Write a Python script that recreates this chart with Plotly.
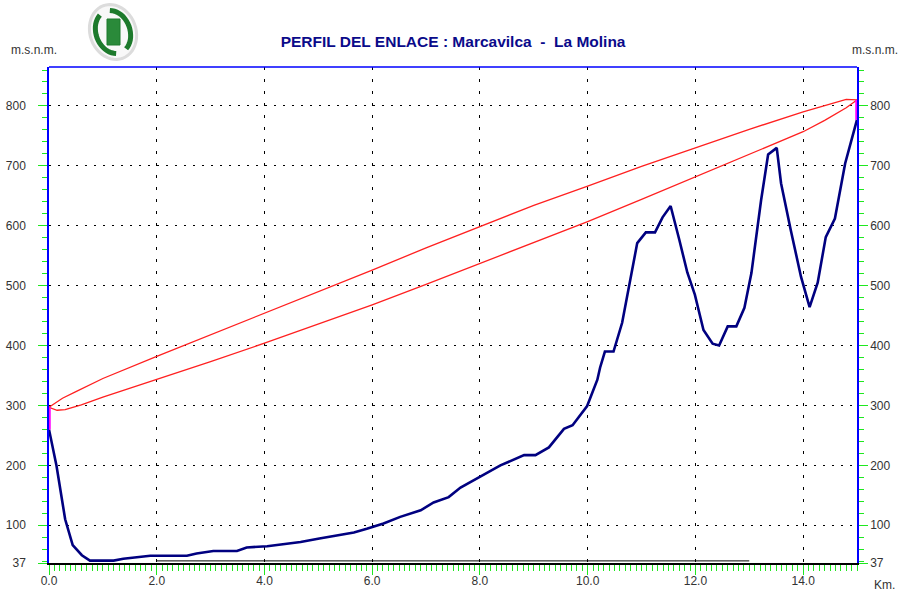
import math
import plotly.graph_objects as go

# ---- terrain profile (distance in km, elevation in m.s.n.m.) ----
dist_km = [0.00, 0.14, 0.30, 0.44, 0.61, 0.76, 1.20, 1.38, 1.88, 2.56, 2.74, 3.05,
           3.49, 3.67, 4.05, 4.29, 4.67, 5.02, 5.16, 5.66, 5.90, 6.21, 6.52, 6.90,
           7.14, 7.42, 7.64, 8.01, 8.38, 8.82, 9.03, 9.28, 9.56, 9.72, 9.99, 10.18,
           10.23, 10.32, 10.48, 10.64, 10.92, 11.08, 11.25, 11.39, 11.54, 11.70,
           11.85, 11.99, 12.15, 12.32, 12.44, 12.60, 12.76, 12.91, 13.04, 13.22,
           13.35, 13.51, 13.59, 13.77, 13.96, 14.12, 14.27, 14.42, 14.59, 14.78, 15.00]
elev_m = [260, 199, 110, 67, 50, 41, 41, 44, 49, 49, 53, 57,
          57, 63, 65, 68, 72, 78, 80, 88, 94, 103, 114, 125,
          138, 147, 163, 181, 200, 217, 217, 230, 261, 267, 299, 343,
          363, 390, 390, 438, 571, 589, 589, 614, 633, 577,
          522, 485, 426, 403, 400, 432, 432, 463, 521, 643,
          719, 730, 671, 593, 515, 464, 505, 581, 612, 704, 777]

# ---- Fresnel zone boundaries ----
fres_up_x = [0, 0.25, 0.5, 1, 2, 3, 4, 5, 6, 7, 8, 9, 10, 11, 12, 13, 14, 14.5, 14.8, 15]
fres_up_y = [297, 312, 323, 345, 382, 418, 453, 490, 526, 563, 599, 634, 666, 699, 730, 761, 790, 803, 811, 810]
fres_lo_x = [0, 0.15, 0.3, 0.6, 1, 2, 3, 4, 5, 6, 7, 8, 9, 10, 11, 12, 13, 14, 14.4, 14.8, 15]
fres_lo_y = [297, 292, 293, 301, 314, 343, 373, 404, 436, 468, 502, 537, 572, 607, 644, 682, 720, 757, 776, 797, 810]

# ---- antennas (site positions, ground level, antenna height) ----
site_km = [0.0, 15.0]
site_ground = [260, 777]
site_top = [297, 810]

# ---- reference line along the base ----
base_x = [2.0, 13.0]
base_y = [40.5, 40.5]

# ---- axes ----
y_range = [37, 865]
x_range = [0, 15]
y_ticks = [37, 100, 200, 300, 400, 500, 600, 700, 800]
x_ticks = [0, 2, 4, 6, 8, 10, 12, 14]
x_labels = ["0.0", "2.0", "4.0", "6.0", "8.0", "10.0", "12.0", "14.0"]

TITLE = "PERFIL DEL ENLACE : Marcavilca \u00a0- \u00a0La Molina"
FONT = "Liberation Sans, Arial, sans-serif"
GREEN = "#1fe81f"
LABEL_COLOR = "#333333"

fig = go.Figure()

fig.add_trace(go.Scatter(x=fres_up_x, y=fres_up_y, mode="lines",
                         line=dict(color="#ff2020", width=1.3), showlegend=False))
fig.add_trace(go.Scatter(x=fres_lo_x, y=fres_lo_y, mode="lines",
                         line=dict(color="#ff2020", width=1.3), showlegend=False))
fig.add_trace(go.Scatter(x=base_x, y=base_y, mode="lines",
                         line=dict(color="#000000", width=1), showlegend=False))
fig.add_trace(go.Scatter(x=dist_km, y=elev_m, mode="lines",
                         line=dict(color="#000080", width=2.6), showlegend=False))
for i in range(len(site_km)):
    fig.add_trace(go.Scatter(x=[site_km[i], site_km[i]], y=[site_ground[i], site_top[i]],
                             mode="lines", line=dict(color="#ff00ff", width=3.5),
                             showlegend=False, cliponaxis=False,
                             yaxis="y2" if i == 1 else "y"))

tickfont = dict(family=FONT, size=12, color=LABEL_COLOR)

fig.update_layout(
    width=899, height=594,
    margin=dict(l=49, r=42, t=67, b=31, pad=0, autoexpand=False),
    paper_bgcolor="white", plot_bgcolor="white",
    title=dict(text="<b>" + TITLE + "</b>", x=0.504, xanchor="center",
               y=1 - 42 / 594, yanchor="middle", yref="container", automargin=False,
               font=dict(family=FONT, size=15.5, color="#0a0a8a")),
    xaxis=dict(range=x_range, tickmode="array", tickvals=x_ticks, ticktext=x_labels,
               ticks="outside", ticklen=10, tickwidth=1, tickcolor=GREEN,
               showline=True, linecolor="#000000", linewidth=2, automargin=False,
               showgrid=True, gridcolor="#000000", gridwidth=1, griddash="3px,9px",
               zeroline=False, tickfont=tickfont, ticklabelstandoff=-4,
               minor=dict(dtick=0.1, tick0=0, ticks="outside", ticklen=6,
                          tickcolor=GREEN, showgrid=False)),
    yaxis=dict(range=y_range, tickmode="array", tickvals=y_ticks,
               ticks="outside", ticklen=9, tickwidth=1, tickcolor=GREEN,
               showline=True, linecolor="#0000ff", linewidth=1.5, automargin=False,
               showgrid=True, gridcolor="#000000", gridwidth=1, griddash="2px,7px",
               zeroline=False, tickfont=tickfont, ticklabelstandoff=10,
               minor=dict(dtick=20, tick0=0, ticks="outside", ticklen=5,
                          tickcolor=GREEN, showgrid=False)),
    yaxis2=dict(range=y_range, overlaying="y", side="right", tickmode="array",
                tickvals=y_ticks, ticks="outside", ticklen=9, tickwidth=1,
                tickcolor=GREEN, showline=True, linecolor="#0000ff", linewidth=1.5,
                showgrid=False, zeroline=False, tickfont=tickfont, ticklabelstandoff=0,
                automargin=False,
                minor=dict(dtick=20, tick0=0, ticks="outside", ticklen=5,
                           tickcolor=GREEN, showgrid=False)),
)

# top border of the plotting frame
fig.add_shape(type="line", xref="paper", yref="paper", x0=0, x1=1, y0=1, y1=1,
              line=dict(color="#0000ff", width=1.5))

# unit labels
unit_font = dict(family=FONT, size=12, color=LABEL_COLOR)
fig.add_annotation(text="m.s.n.m.", xref="paper", yref="paper", x=-0.049, y=1.034,
                   xanchor="left", yanchor="middle", showarrow=False, font=unit_font)
fig.add_annotation(text="m.s.n.m.", xref="paper", yref="paper", x=0.991, y=1.034,
                   xanchor="left", yanchor="middle", showarrow=False, font=unit_font)
fig.add_annotation(text="Km.", xref="paper", yref="paper", x=1.019, y=-0.045,
                   xanchor="left", yanchor="middle", showarrow=False, font=unit_font)

# emblem next to the title (drawn in pixel space)
PL, PR, PT, PB = 49, 857, 67, 563


def px(x, y):
    return (x - PL) / (PR - PL), (PB - y) / (PB - PT)


def path_of(points, close=False):
    pts = [px(x, y) for x, y in points]
    d = "M " + " L ".join(f"{a:.4f},{b:.4f}" for a, b in pts)
    return d + (" Z" if close else "")


def tilted_oval(cx, cy, rx, ry, tilt, n=48):
    pts = []
    c, s = math.cos(tilt), math.sin(tilt)
    for k in range(n):
        t = 2 * math.pi * k / n
        ex, ey = rx * math.cos(t), ry * math.sin(t)
        pts.append((cx + ex * c - ey * s, cy + ex * s + ey * c))
    return pts


oval = tilted_oval(113, 32, 23, 28, -0.35)
fig.add_shape(type="path", xref="paper", yref="paper", path=path_of(oval, close=True),
              line=dict(color="#dcdcdc", width=3), fillcolor="#f8f8f8")
inner = tilted_oval(113, 32, 17, 22, -0.35)
left_arc = inner[14:34]
right_arc = inner[38:48] + inner[0:10]
fig.add_shape(type="path", xref="paper", yref="paper", path=path_of(left_arc),
              line=dict(color="#1d7a2c", width=5))
fig.add_shape(type="path", xref="paper", yref="paper", path=path_of(right_arc),
              line=dict(color="#1d7a2c", width=5))
rx0, ry0 = px(107, 19)
rx1, ry1 = px(120, 45)
fig.add_shape(type="rect", xref="paper", yref="paper", x0=rx0, x1=rx1, y0=ry1, y1=ry0,
              line=dict(color="#1d7a2c", width=1), fillcolor="#2a8a3a")

fig.write_html("out.html")
